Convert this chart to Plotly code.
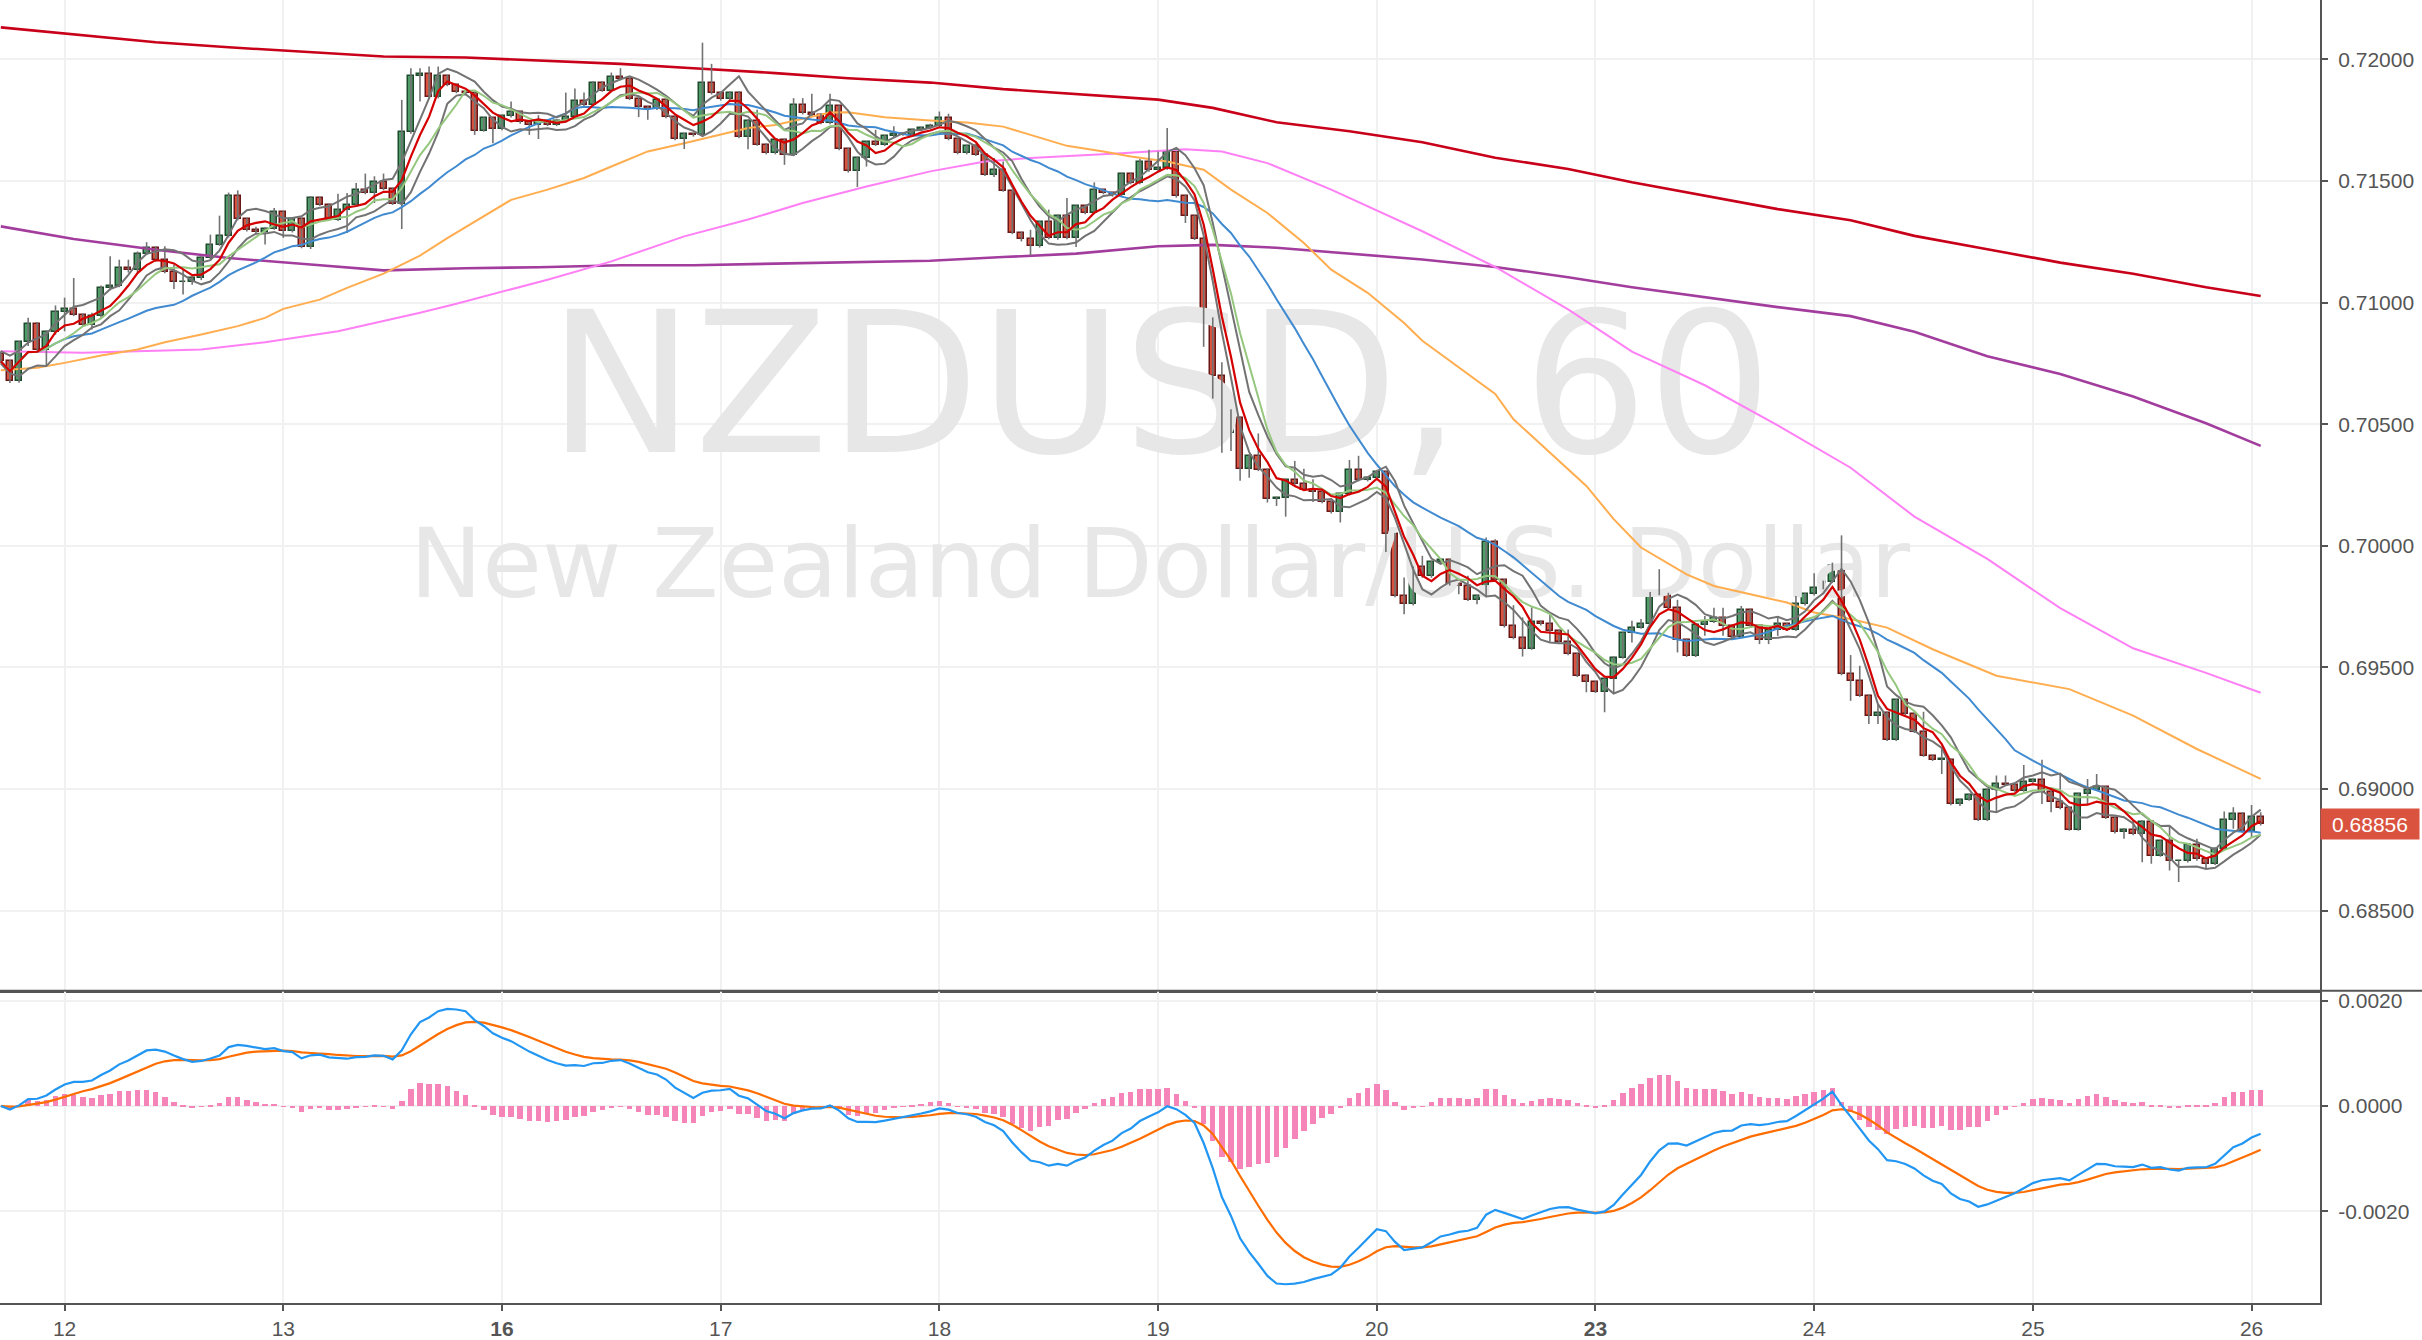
import pandas as pd
import plotly.graph_objects as go

# ---------------- data ----------------
FIRST_BAR = -7          # bar index of the first candle (day 12 00:00 = bar 0)
FIRST_OPEN = 0.70790
BARS_PER_DAY = 24

closes = [
    0.70759, 0.70677, 0.70837, 0.70912, 0.70803, 0.70878, 0.70960,
    0.70975, 0.70948, 0.70907, 0.70944, 0.71060, 0.71070, 0.71142, 0.71133, 0.71200, 0.71223, 0.71173, 0.71125,
    0.71083, 0.71083, 0.71100, 0.71183, 0.71238, 0.71272, 0.71436, 0.71343, 0.71297, 0.71289, 0.71304, 0.71371,
    0.71296, 0.71343, 0.71228, 0.71430, 0.71402, 0.71340, 0.71379, 0.71402, 0.71461, 0.71450, 0.71494, 0.71467,
    0.71406, 0.71699, 0.71931, 0.71940, 0.71844, 0.71931, 0.71894, 0.71865, 0.71860, 0.71707, 0.71757, 0.71713,
    0.71765, 0.71783, 0.71740, 0.71730, 0.71745, 0.71730, 0.71748, 0.71764, 0.71830, 0.71812, 0.71904, 0.71871,
    0.71929, 0.71918, 0.71837, 0.71803, 0.71796, 0.71833, 0.71762, 0.71672, 0.71692, 0.71687, 0.71904, 0.71860,
    0.71835, 0.71863, 0.71680, 0.71748, 0.71649, 0.71614, 0.71669, 0.71607, 0.71813, 0.71778, 0.71772, 0.71738,
    0.71806, 0.71631, 0.71539, 0.71594, 0.71658, 0.71648, 0.71683, 0.71692, 0.71690, 0.71710, 0.71717, 0.71727,
    0.71758, 0.71672, 0.71614, 0.71644, 0.71607, 0.71525, 0.71543, 0.71460, 0.71286, 0.71261, 0.71231, 0.71330,
    0.71265, 0.71357, 0.71265, 0.71395, 0.71368, 0.71461, 0.71450, 0.71440, 0.71529, 0.71491, 0.71576, 0.71543,
    0.71551, 0.71617, 0.71436, 0.71354, 0.71262, 0.70934, 0.70698, 0.70465, 0.70527, 0.70317, 0.70370, 0.70312,
    0.70194, 0.70197, 0.70271, 0.70253, 0.70230, 0.70222, 0.70180, 0.70138, 0.70212, 0.70312, 0.70270, 0.70280,
    0.70304, 0.70048, 0.69794, 0.69760, 0.69911, 0.69874, 0.69934, 0.69942, 0.69842, 0.69836, 0.69778, 0.69794,
    0.70016, 0.69859, 0.69669, 0.69621, 0.69578, 0.69688, 0.69678, 0.69651, 0.69606, 0.69555, 0.69466, 0.69439,
    0.69400, 0.69451, 0.69541, 0.69640, 0.69664, 0.69680, 0.69805, 0.69802, 0.69745, 0.69614, 0.69548, 0.69674,
    0.69688, 0.69705, 0.69669, 0.69627, 0.69737, 0.69671, 0.69614, 0.69655, 0.69678, 0.69655, 0.69760, 0.69801,
    0.69826, 0.69852, 0.69917, 0.69473, 0.69446, 0.69384, 0.69302, 0.69313, 0.69203, 0.69367, 0.69309, 0.69236,
    0.69138, 0.69121, 0.69121, 0.68939, 0.68957, 0.68976, 0.68874, 0.68998, 0.69021, 0.69019, 0.68994, 0.69031,
    0.69039, 0.68990, 0.68946, 0.68922, 0.68834, 0.68980, 0.68998, 0.69008, 0.68882, 0.68823, 0.68834, 0.68816,
    0.68867, 0.68727, 0.68785, 0.68703, 0.68703, 0.68771, 0.68711, 0.68693, 0.68755, 0.68875, 0.68898, 0.68826,
    0.68885, 0.68856,
]

# wick lengths beyond the candle body, in points (0.00001)
upper_wick = [
    10, 5, 5, 25, 8, 8, 28,
    45, 126, 7, 14, 10, 120, 34, 34, 10, 25, 8, 58,
    31, 52, 10, 8, 41, 85, 16, 25, 5, 14, 5, 18,
    5, 8, 5, 7, 5, 5, 68, 48, 30, 69, 25, 36,
    5, 134, 32, 23, 30, 39, 5, 5, 5, 5, 5, 5,
    5, 43, 5, 5, 25, 5, 5, 99, 50, 33, 5, 5,
    16, 34, 5, 5, 5, 5, 5, 5, 5, 5, 164, 77,
    5, 5, 5, 5, 44, 5, 5, 5, 27, 27, 80, 5,
    52, 5, 5, 5, 5, 52, 5, 32, 5, 5, 5, 8,
    27, 18, 5, 5, 5, 5, 51, 37, 5, 5, 38, 5,
    52, 5, 73, 5, 5, 33, 5, 5, 5, 5, 14, 52,
    70, 100, 5, 5, 5, 10, 5, 57, 34, 5, 5, 92,
    5, 5, 5, 78, 64, 44, 5, 5, 5, 41, 58, 5,
    5, 5, 5, 76, 5, 48, 5, 5, 5, 5, 41, 5,
    18, 11, 5, 87, 85, 59, 5, 45, 5, 50, 5, 5,
    5, 5, 5, 5, 28, 19, 5, 99, 5, 33, 5, 5,
    24, 41, 41, 5, 16, 5, 5, 5, 32, 5, 34, 5,
    61, 5, 14, 126, 78, 61, 5, 33, 5, 5, 5, 5,
    82, 5, 44, 5, 5, 5, 5, 5, 35, 35, 5, 68,
    5, 82, 5, 116, 5, 5, 44, 54, 5, 5, 5, 37,
    5, 5, 5, 59, 5, 5, 25, 5, 5, 33, 28, 7,
    50, 20,
]
lower_wick = [
    10, 8, 7, 16, 8, 64, 10,
    78, 4, 4, 18, 10, 10, 7, 10, 8, 5, 5, 5,
    27, 50, 10, 8, 5, 5, 5, 5, 5, 5, 51, 5,
    30, 8, 5, 8, 5, 5, 5, 93, 5, 5, 41, 5,
    5, 104, 5, 105, 5, 5, 5, 5, 5, 18, 5, 58,
    5, 5, 5, 41, 58, 5, 5, 5, 5, 5, 5, 5,
    5, 5, 5, 41, 45, 5, 5, 5, 41, 5, 5, 5,
    5, 5, 5, 50, 5, 5, 5, 41, 5, 5, 5, 5,
    5, 5, 5, 64, 35, 5, 5, 5, 5, 5, 5, 5,
    5, 5, 5, 5, 5, 5, 9, 5, 5, 10, 38, 5,
    5, 7, 5, 37, 5, 5, 5, 5, 5, 5, 5, 5,
    5, 5, 5, 27, 5, 116, 93, 82, 75, 50, 37, 5,
    16, 30, 77, 5, 5, 42, 5, 5, 42, 5, 5, 5,
    5, 73, 5, 41, 5, 5, 5, 5, 5, 35, 5, 18,
    5, 5, 5, 5, 33, 5, 5, 45, 5, 5, 5, 41,
    5, 84, 56, 5, 37, 5, 5, 5, 5, 52, 5, 5,
    44, 5, 39, 5, 5, 5, 18, 18, 25, 5, 5, 5,
    5, 5, 5, 5, 83, 5, 34, 34, 5, 5, 5, 5,
    5, 5, 59, 5, 8, 5, 5, 5, 93, 5, 5, 5,
    5, 51, 41, 5, 5, 5, 41, 5, 5, 5, 27, 5,
    116, 34, 5, 37, 85, 5, 5, 20, 5, 5, 38, 5,
    23, 5,
]

day_labels = ["12", "13", "16", "17", "18", "19", "20", "23", "24", "25", "26"]
week_starts = ["16", "23"]

# long moving averages: (bar index, value)
ma_long_red_idx = [-7, 1, 10, 18, 27, 35, 44, 52, 61, 69, 78, 86, 95, 103, 111, 120, 126, 133, 141, 149,
                   157, 165, 172, 180, 188, 196, 203, 211, 219, 227, 235, 241]
ma_long_red_val = [0.72131, 0.72103, 0.72070, 0.72049, 0.72029, 0.72011, 0.72007, 0.71994, 0.71981, 0.71963,
                   0.71943, 0.71922, 0.71904, 0.71877, 0.71858, 0.71834, 0.71800, 0.71741, 0.71704, 0.71659,
                   0.71595, 0.71549, 0.71494, 0.71439, 0.71384, 0.71338, 0.71274, 0.71219, 0.71164, 0.71118,
                   0.71063, 0.71027]

ma_purple_idx = [-7, 1, 10, 18, 27, 35, 44, 52, 61, 69, 78, 86, 95, 103, 111, 120, 126, 133, 141, 149,
                 157, 165, 172, 180, 188, 196, 203, 211, 219, 227, 235, 241]
ma_purple_val = [0.71313, 0.71261, 0.71217, 0.71183, 0.71156, 0.71132, 0.71141, 0.71145, 0.71153, 0.71153,
                 0.71160, 0.71165, 0.71172, 0.71187, 0.71201, 0.71231, 0.71237, 0.71225, 0.71201, 0.71177,
                 0.71146, 0.71104, 0.71063, 0.71021, 0.70981, 0.70944, 0.70880, 0.70779, 0.70706, 0.70614,
                 0.70504, 0.70411]

ma_magenta_idx = [-7, 2, 15, 22, 30, 39, 43, 53, 60, 68, 75, 81, 88, 95, 101, 106, 116, 123, 127, 132,
                  139, 149, 157, 165, 172, 180, 188, 196, 203, 211, 219, 227, 235, 241]
ma_magenta_val = [0.70800, 0.70794, 0.70807, 0.70837, 0.70882, 0.70958, 0.70995, 0.71094, 0.71169, 0.71272,
                  0.71341, 0.71409, 0.71477, 0.71539, 0.71580, 0.71594, 0.71614, 0.71630, 0.71621, 0.71573,
                  0.71464, 0.71293, 0.71146, 0.70972, 0.70798, 0.70660, 0.70495, 0.70321, 0.70120, 0.69946,
                  0.69744, 0.69579, 0.69478, 0.69396]

ma_orange_idx = [-7, -3, 0, 4, 8, 11, 15, 19, 22, 24, 28, 31, 35, 39, 42, 46, 49, 53, 57, 60, 64, 68, 71,
                 75, 78, 84, 86, 90, 95, 99, 103, 106, 110, 114, 117, 121, 125, 128, 132, 136, 139, 143,
                 147, 149, 157, 159, 163, 167, 170, 173, 178, 181, 185, 189, 192, 196, 200, 205, 212, 220,
                 227, 234, 241]
ma_orange_val = [0.70722, 0.70732, 0.70752, 0.70782, 0.70807, 0.70837, 0.70869, 0.70903, 0.70937, 0.70974,
                 0.71012, 0.71060, 0.71119, 0.71193, 0.71265, 0.71354, 0.71422, 0.71464, 0.71512, 0.71559,
                 0.71621, 0.71655, 0.71682, 0.71717, 0.71730, 0.71781, 0.71782, 0.71762, 0.71748, 0.71740,
                 0.71723, 0.71690, 0.71644, 0.71621, 0.71600, 0.71580, 0.71546, 0.71464, 0.71368, 0.71245,
                 0.71135, 0.71040, 0.70916, 0.70843, 0.70624, 0.70520, 0.70383, 0.70246, 0.70110, 0.69993,
                 0.69883, 0.69835, 0.69801, 0.69767, 0.69726, 0.69699, 0.69664, 0.69575, 0.69466, 0.69411,
                 0.69302, 0.69165, 0.69042]

price_ticks = [0.685, 0.690, 0.695, 0.700, 0.705, 0.710, 0.715, 0.720]
macd_ticks = [-0.002, 0.0, 0.002]
macd_tick_text = ["-0.0020", "0.0000", "0.0020"]

assert len(closes) == len(upper_wick) == len(lower_wick)

# ---------------- styles ----------------
X_RANGE = [-7.09, 247.51]
Y_RANGE = [0.681717, 0.722434]
M_RANGE = [-0.00374, 0.00219]
SPLIT = 0.2397
AX = "#555555"
GRID = "#F1F1F1"
TXT = "#555555"
FONT = "Liberation Sans, Arial, sans-serif"
UP_FILL, UP_EDGE = "#4F9D69", "#1E4B2D"
DN_FILL, DN_EDGE = "#D9533F", "#6A1717"

# ---------------- derived series ----------------
n = len(closes)
idx = list(range(FIRST_BAR, FIRST_BAR + n))
opens = [FIRST_OPEN] + closes[:-1]
highs = [max(o, c) + u * 1e-5 for o, c, u in zip(opens, closes, upper_wick)]
lows = [min(o, c) - w * 1e-5 for o, c, w in zip(opens, closes, lower_wick)]

sc = pd.Series(closes)
sma5 = sc.rolling(5, min_periods=1).mean()
sma8 = sc.rolling(8, min_periods=1).mean()
sma20 = sc.rolling(20, min_periods=1).mean()
hi5 = pd.Series(highs).rolling(5, min_periods=1).mean()
lo5 = pd.Series(lows).rolling(5, min_periods=1).mean()

ema12 = sc.ewm(span=12, adjust=False).mean()
ema26 = sc.ewm(span=26, adjust=False).mean()
macd = ema12 - ema26
signal = macd.ewm(span=9, adjust=False).mean()
hist = macd - signal

fig = go.Figure()

# watermark (drawn first so everything sits on top of it)
wm_x = (X_RANGE[0] + X_RANGE[1]) / 2
y_mid = (Y_RANGE[0] + Y_RANGE[1]) / 2
y_span = Y_RANGE[1] - Y_RANGE[0]
fig.add_trace(go.Scatter(x=[wm_x], y=[y_mid + 0.093 * y_span], mode="text", text=["NZDUSD, 60"],
                         textfont=dict(family="DejaVu Sans", size=196, color="#E7E7E7"),
                         hoverinfo="skip", xaxis="x", yaxis="y"))
fig.add_trace(go.Scatter(x=[wm_x], y=[y_mid - 0.0785 * y_span], mode="text",
                         text=["New Zealand Dollar/U.S. Dollar"],
                         textfont=dict(family="DejaVu Sans", size=97, color="#E7E7E7"),
                         hoverinfo="skip", xaxis="x", yaxis="y"))

# long MAs
for xs, ys, col, w in [(ma_long_red_idx, ma_long_red_val, "#C8001A", 2.6),
                       (ma_purple_idx, ma_purple_val, "#A23D9E", 2.6),
                       (ma_magenta_idx, ma_magenta_val, "#FF7FF5", 2.0),
                       (ma_orange_idx, ma_orange_val, "#FFAD4F", 2.0)]:
    fig.add_trace(go.Scatter(x=xs, y=ys, mode="lines", line=dict(color=col, width=w),
                             hoverinfo="skip", xaxis="x", yaxis="y"))

# wicks
wx, wy = [], []
for i, h, l in zip(idx, highs, lows):
    wx += [i, i, None]
    wy += [l, h, None]
fig.add_trace(go.Scatter(x=wx, y=wy, mode="lines", line=dict(color="#727272", width=1.6),
                         hoverinfo="skip", xaxis="x", yaxis="y"))

# candle bodies
is_up = [c >= o for o, c in zip(opens, closes)]
fig.add_trace(go.Bar(
    x=idx, base=[min(o, c) for o, c in zip(opens, closes)],
    y=[max(abs(c - o), 0.00002) for o, c in zip(opens, closes)],
    width=0.66,
    marker=dict(color=[UP_FILL if u else DN_FILL for u in is_up],
                line=dict(color=[UP_EDGE if u else DN_EDGE for u in is_up], width=1.5)),
    xaxis="x", yaxis="y", hoverinfo="skip"))

# short MAs
for ser, col, w in [(sma20, "#3F8AD0", 2.0), (hi5, "#737373", 2.0), (lo5, "#737373", 2.0),
                    (sma8, "#95C77E", 2.0), (sma5, "#D50000", 2.2)]:
    fig.add_trace(go.Scatter(x=idx, y=ser, mode="lines", line=dict(color=col, width=w),
                             hoverinfo="skip", xaxis="x", yaxis="y"))

# MACD pane
fig.add_trace(go.Bar(x=idx, y=hist, width=0.6, marker=dict(color="#F585B8", line=dict(width=0)),
                     xaxis="x2", yaxis="y2", hoverinfo="skip"))
fig.add_trace(go.Scatter(x=idx, y=signal, mode="lines", line=dict(color="#FF6D00", width=2.2),
                         xaxis="x2", yaxis="y2", hoverinfo="skip"))
fig.add_trace(go.Scatter(x=idx, y=macd, mode="lines", line=dict(color="#2196F3", width=2.2),
                         xaxis="x2", yaxis="y2", hoverinfo="skip"))

day_ticks = [k * BARS_PER_DAY for k in range(len(day_labels))]
day_text = ["<b>%s</b>" % d if d in week_starts else d for d in day_labels]
tick_font = dict(family=FONT, size=21, color=TXT)

fig.update_layout(
    width=2422, height=1340,
    margin=dict(l=0, r=102, t=0, b=37),
    paper_bgcolor="white", plot_bgcolor="white",
    showlegend=False, barmode="overlay", bargap=0,
    xaxis=dict(domain=[0, 1], range=X_RANGE, anchor="y", tickvals=day_ticks, showticklabels=False,
               ticks="", showgrid=True, gridcolor=GRID, gridwidth=1.5, zeroline=False,
               showline=True, linecolor=AX, linewidth=2, automargin=False, fixedrange=True),
    yaxis=dict(domain=[SPLIT, 1], range=Y_RANGE, anchor="x", side="right", tickvals=price_ticks,
               tickformat=".5f", ticks="outside", ticklen=6, tickcolor=AX, tickwidth=1.5,
               showline=True, linecolor=AX, linewidth=2, showgrid=True, gridcolor=GRID, gridwidth=1.5,
               zeroline=False, tickfont=tick_font, automargin=False, ticklabelstandoff=6),
    xaxis2=dict(domain=[0, 1], range=X_RANGE, anchor="y2", tickvals=day_ticks, ticktext=day_text,
                ticks="outside", ticklen=6, tickcolor=AX, tickwidth=1.5, showgrid=True, gridcolor=GRID,
                gridwidth=1.5, zeroline=False, showline=True, linecolor=AX, linewidth=2,
                tickfont=tick_font, automargin=False),
    yaxis2=dict(domain=[0, SPLIT], range=M_RANGE, anchor="x2", side="right", tickvals=macd_ticks,
                ticktext=macd_tick_text, ticks="outside", ticklen=6, tickcolor=AX, tickwidth=1.5,
                showline=True, linecolor=AX, linewidth=2, showgrid=True, gridcolor=GRID, gridwidth=1.5,
                zeroline=False, tickfont=tick_font, automargin=False, ticklabelstandoff=6),
    shapes=[dict(type="line", xref="paper", yref="paper", x0=0, x1=2422 / 2320, y0=SPLIT, y1=SPLIT,
                 line=dict(color=AX, width=2))],
    annotations=[dict(x=1, xref="paper", y=closes[-1], yref="y", xanchor="left", yanchor="middle",
                      text="%.5f" % closes[-1], showarrow=False, bgcolor="#D9533F",
                      font=dict(family=FONT, size=21, color="white"), width=98, height=30,
                      align="center", borderpad=0)],
)

fig.write_html("out.html", config={"displayModeBar": False},
               post_script="document.body.style.margin='0px';")
